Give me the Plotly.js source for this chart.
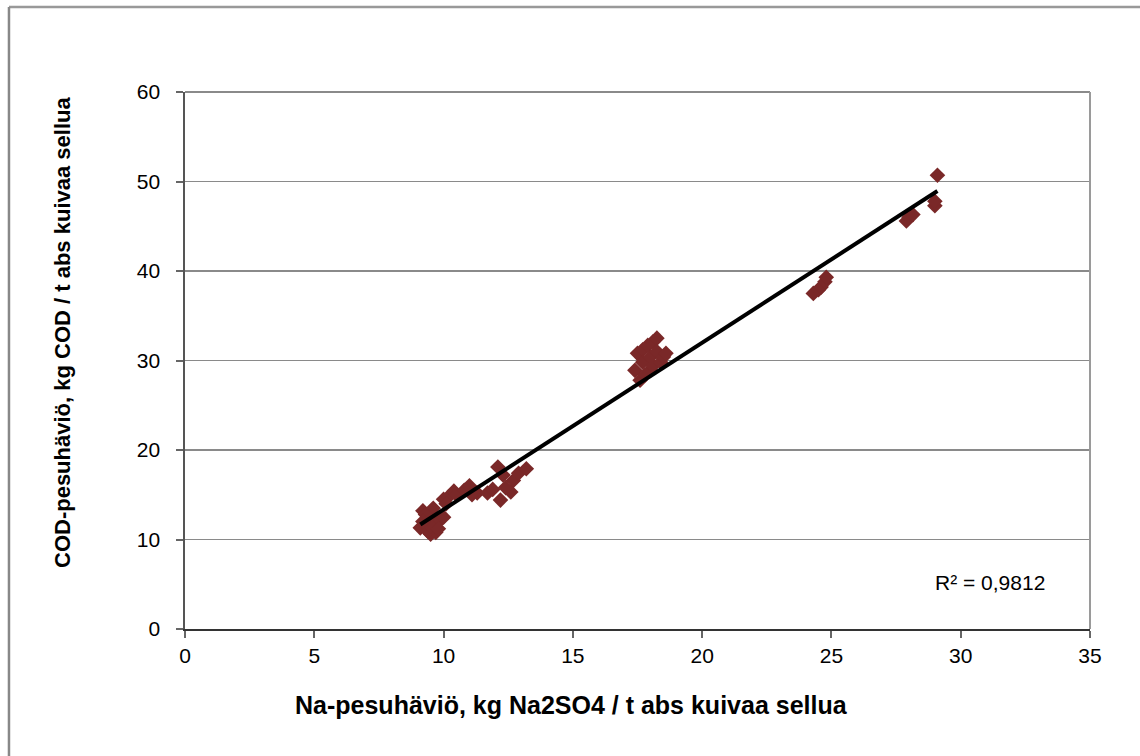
<!DOCTYPE html>
<html><head><meta charset="utf-8">
<script src="https://cdn.plot.ly/plotly-3.0.1.min.js"></script>
<style>html,body{margin:0;padding:0;background:#fff;overflow:hidden}#chart{width:1140px;height:756px}</style>
</head><body><div id="chart"></div>
<script>
// Na-loss (kg Na2SO4 / t) and COD-loss (kg COD / t) values
const naLoss = [
  9.1, 9.2, 9.5, 9.6, 9.6, 9.7, 9.9, 10.0, 10.2, 10.4, 10.5, 10.8, 11.0, 11.3, 11.7, 11.9,
  12.1, 12.2, 12.3, 12.6, 12.7, 12.9, 13.2, 9.3, 9.8, 10.1, 11.1, 12.4,
  9.4, 9.5, 9.2, 9.8, 10.0,
  17.4, 17.5, 17.6, 17.7, 17.7, 17.9, 18.0, 18.0, 18.1, 18.1, 18.25, 18.25, 18.4, 18.5, 18.6, 17.8,
  24.3, 24.5, 24.6, 24.75, 24.8,
  27.9, 28.0, 28.15, 29.0, 29.0, 29.1
];
const codLoss = [
  11.3, 13.2, 10.6, 13.5, 12.2, 10.8, 12.3, 14.5, 14.8, 15.4, 15.0, 15.5, 16.0, 15.2, 15.2, 15.6,
  18.1, 14.4, 17.2, 15.3, 16.6, 17.4, 17.9, 12.8, 12.0, 14.0, 15.0, 15.8,
  10.9, 11.5, 12.0, 11.2, 12.5,
  28.9, 30.8, 27.8, 31.2, 29.8, 31.7, 30.4, 28.9, 32.1, 29.4, 32.5, 31.0, 29.8, 30.4, 30.8, 28.4,
  37.5, 37.9, 38.2, 38.8, 39.3,
  45.6, 46.0, 46.3, 47.3, 47.8, 50.7
];
const r2Label = 'R² = 0,9812';
const xTitle = 'Na-pesuhäviö, kg Na2SO4 / t abs kuivaa sellua';
const yTitle = 'COD-pesuhäviö, kg COD / t abs kuivaa sellua';

// Linear least-squares trendline computed from the data
const n = naLoss.length;
const mx = naLoss.reduce((a,b)=>a+b,0)/n, my = codLoss.reduce((a,b)=>a+b,0)/n;
let sxy=0, sxx=0;
for (let i=0;i<n;i++){ sxy += (naLoss[i]-mx)*(codLoss[i]-my); sxx += (naLoss[i]-mx)**2; }
const slope = sxy/sxx, icpt = my - slope*mx;
const xmin = Math.min(...naLoss), xmax = Math.max(...naLoss);
const trendX = [xmin, xmax];
const trendY = trendX.map(v => icpt + slope*v);

const font = 'Liberation Sans, Arial, sans-serif';
const data = [
  {x: naLoss, y: codLoss, mode: 'markers', type: 'scatter',
   marker: {symbol: 'diamond', size: 12, color: '#7a2828'}, showlegend: false, hoverinfo: 'x+y'},
  {x: trendX, y: trendY, mode: 'lines', type: 'scatter',
   line: {color: '#000', width: 4}, showlegend: false, hoverinfo: 'skip'}
];
const layout = {
  width: 1140, height: 756,
  margin: {l: 185, r: 50, t: 92, b: 127},
  paper_bgcolor: '#fff', plot_bgcolor: '#fff',
  font: {family: font, size: 21, color: '#000'},
  xaxis: {range: [0, 35], dtick: 5, tick0: 0, showgrid: false, zeroline: false,
          showline: true, linecolor: '#333', linewidth: 2, ticks: 'outside', ticklen: 7,
          tickcolor: '#666', tickwidth: 2, tickfont: {size: 21}},
  yaxis: {range: [0, 60], dtick: 10, tick0: 0, showgrid: true, gridcolor: '#8a8a8a', gridwidth: 1.5,
          zeroline: false, showline: true, linecolor: '#555', linewidth: 2, ticks: 'outside',
          ticklen: 7, tickcolor: '#666', tickwidth: 2, tickfont: {size: 21}, ticksuffix: '  '},
  shapes: [
    {type: 'line', xref: 'paper', yref: 'paper', x0: 0, x1: 1, y0: 1, y1: 1, line: {color: '#8a8a8a', width: 2}},
    {type: 'line', xref: 'paper', yref: 'paper', x0: 1, x1: 1, y0: 0, y1: 1, line: {color: '#9a9a9a', width: 2}},
    {type: 'line', xref: 'paper', yref: 'paper', x0: -0.1945, x1: 1.2, y0: 1.1583, y1: 1.1583, line: {color: '#999', width: 2.5}},
    {type: 'line', xref: 'paper', yref: 'paper', x0: -0.1945, x1: -0.1945, y0: -0.3, y1: 1.1583, line: {color: '#888', width: 2.5}}
  ],
  annotations: [
    {text: r2Label, xref: 'paper', yref: 'paper', x: (1047-185)/905, y: (629-582)/537,
     xanchor: 'right', yanchor: 'middle', showarrow: false, font: {size: 21}},
    {text: '<b>' + xTitle + '</b>', xref: 'paper', yref: 'paper', x: (571-185)/905, y: (629-705)/537,
     xanchor: 'center', yanchor: 'middle', showarrow: false, font: {size: 25}},
    {text: '<b>' + yTitle + '</b>', xref: 'paper', yref: 'paper', x: (62-185)/905, y: (629-333)/537,
     xanchor: 'center', yanchor: 'middle', showarrow: false, textangle: -90, font: {size: 22}}
  ]
};
Plotly.newPlot('chart', data, layout, {displayModeBar: false, staticPlot: true});
</script></body></html>
